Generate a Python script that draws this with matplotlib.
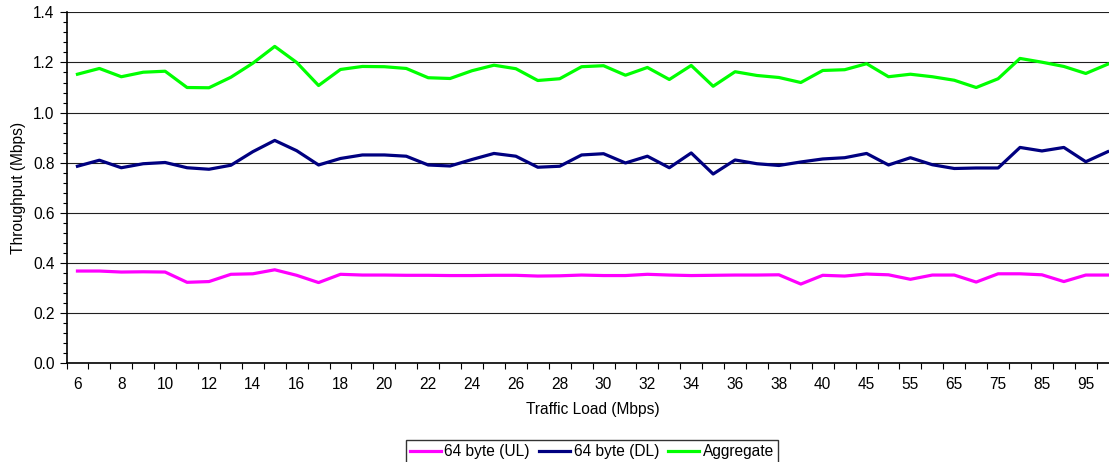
import numpy as np
import matplotlib.pyplot as plt
from matplotlib.ticker import MultipleLocator

plt.rcParams['font.family'] = ['Liberation Sans', 'DejaVu Sans']

# traffic load categories (Mbps)
loads = list(range(6, 41)) + [42, 45, 50, 55, 60, 65, 70, 75, 80, 85, 90, 95, 100]

ul_64 = [0.368, 0.368, 0.364, 0.365, 0.364, 0.323, 0.326, 0.355, 0.357, 0.373,
         0.351, 0.322, 0.355, 0.352, 0.352, 0.351, 0.351, 0.350, 0.350, 0.351,
         0.351, 0.348, 0.349, 0.352, 0.350, 0.350, 0.355, 0.352, 0.350, 0.351,
         0.352, 0.352, 0.353, 0.316, 0.351, 0.348, 0.356, 0.353, 0.335, 0.352,
         0.352, 0.324, 0.357, 0.357, 0.353, 0.326, 0.352, 0.352]

dl_64 = [0.786, 0.810, 0.780, 0.796, 0.801, 0.780, 0.774, 0.790, 0.844, 0.889,
         0.848, 0.791, 0.817, 0.831, 0.831, 0.826, 0.791, 0.787, 0.813, 0.837,
         0.826, 0.782, 0.786, 0.831, 0.836, 0.799, 0.826, 0.780, 0.839, 0.755,
         0.811, 0.796, 0.789, 0.803, 0.815, 0.820, 0.837, 0.791, 0.820, 0.792,
         0.777, 0.779, 0.779, 0.861, 0.847, 0.861, 0.804, 0.844]

aggregate = [1.153, 1.176, 1.143, 1.161, 1.165, 1.100, 1.099, 1.141, 1.197, 1.264,
             1.200, 1.108, 1.172, 1.184, 1.183, 1.176, 1.139, 1.136, 1.167, 1.189,
             1.175, 1.128, 1.135, 1.183, 1.187, 1.149, 1.180, 1.132, 1.188, 1.105,
             1.163, 1.148, 1.140, 1.120, 1.168, 1.171, 1.195, 1.143, 1.153, 1.143,
             1.129, 1.100, 1.135, 1.216, 1.201, 1.184, 1.156, 1.193]

W, H = 1109, 462
fig = plt.figure(figsize=(W / 100, H / 100), dpi=100)
# plot area runs past the right edge of the picture (cropped like the original)
left, right = 66.5, 66.5 + 48 * 21.92
top, bottom = 12.3, 363.3
ax = fig.add_axes([left / W, (H - bottom) / H, (right - left) / W, (bottom - top) / H])

x = np.arange(len(loads))
ax.plot(x, ul_64, color='#ff00ff', lw=2.3, label='64 byte (UL)')
ax.plot(x, dl_64, color='#000080', lw=2.3, label='64 byte (DL)')
ax.plot(x, aggregate, color='#00ff00', lw=2.3, label='Aggregate')

ax.set_xlim(-0.5, len(loads) - 0.5)
ax.set_ylim(0, 1.4)
ax.set_yticks(np.arange(0, 1.41, 0.2))
ax.set_yticklabels([f'{v:.1f}' for v in np.arange(0, 1.41, 0.2)])
ax.yaxis.set_minor_locator(MultipleLocator(0.04))
ax.grid(axis='y', which='major', color='#202020', lw=0.8)
ax.set_axisbelow(True)

ax.set_xticks(x[::2])
ax.set_xticklabels([str(v) for v in loads[::2]])
ax.set_xticks(np.arange(-0.5, len(loads), 1), minor=True)

fs = 11.2
ax.tick_params(axis='x', which='major', length=0, pad=10, labelsize=fs)
ax.tick_params(axis='x', which='minor', length=4.5, width=0.8, direction='out')
ax.tick_params(axis='y', which='major', length=5, width=0.8, pad=3.5, labelsize=fs)
ax.tick_params(axis='y', which='minor', length=3, width=0.8)

for s in ['top', 'right']:
    ax.spines[s].set_visible(False)
for s in ['left', 'bottom']:
    ax.spines[s].set_linewidth(1.2)

ax.set_xlabel('Traffic Load (Mbps)', fontsize=fs, labelpad=7)
ax.set_ylabel('Throughput (Mbps)', fontsize=fs, labelpad=5)

leg = fig.legend(loc='upper center', bbox_to_anchor=(592 / W, (H - 432) / H), ncol=3,
                 fontsize=fs, frameon=True, fancybox=False, edgecolor='black',
                 handlelength=2.0, handletextpad=0.2, columnspacing=0.6,
                 borderpad=0.3)
leg.get_frame().set_linewidth(1.0)

fig.savefig('out.png', dpi=100)
